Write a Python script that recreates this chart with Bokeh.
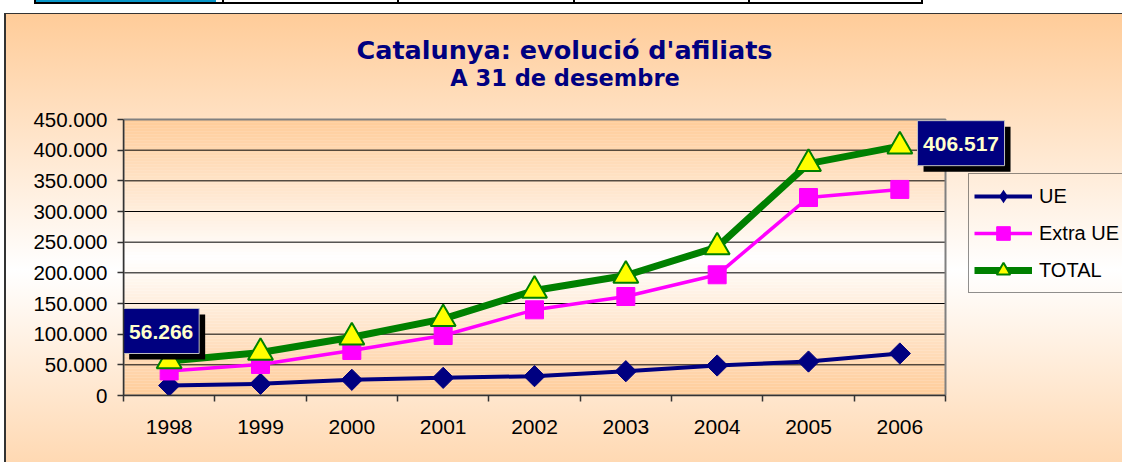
import numpy as np
from bokeh.plotting import figure
from bokeh.models import Range1d, FixedTicker, Label, Legend, LegendItem
from bokeh.embed import file_html
from bokeh.resources import INLINE

# ---------------- data ----------------
years = [1998, 1999, 2000, 2001, 2002, 2003, 2004, 2005, 2006]
ue = [16300, 19000, 25600, 28800, 31500, 39600, 48900, 55400, 68500]
extra_ue = [40000, 50600, 73400, 97800, 139700, 161400, 196800, 322800, 336000]
total = [56266, 70000, 95000, 125000, 171200, 195600, 242000, 378000, 406517]
series_names = ["UE", "Extra UE", "TOTAL"]
y_ticks = [0, 50000, 100000, 150000, 200000, 250000, 300000, 350000, 400000, 450000]
y_tick_labels = ["0", "50.000", "100.000", "150.000", "200.000", "250.000",
                 "300.000", "350.000", "400.000", "450.000"]
title_text = "Catalunya: evolució d'afiliats"
subtitle_text = "A 31 de desembre"

# ---------------- geometry (canvas pixels) ----------------
W, H = 1122, 462
PA_L, PA_R, PA_T, PA_B = 123, 945, 119, 395   # plot area
X0, X1 = years[0] - 0.5, years[-1] + 0.5
Y0, Y1 = y_ticks[0], y_ticks[-1]
px_x = (X1 - X0) / (PA_R - PA_L)
px_y = (Y1 - Y0) / (PA_B - PA_T)

def to_x(px):
    return X0 + (px - PA_L) * px_x

def to_y(py):
    return Y0 + (PA_B - py) * px_y

PEACH = (255, 204, 153)
def mix(t):
    t = max(0.0, min(1.0, t))
    return "#%02x%02x%02x" % tuple(int(round(255 + (c - 255) * t)) for c in PEACH)

NAVY = "#000080"
MAGENTA = "#FF00FF"
GREEN = "#008000"
FONT = "Liberation Sans"
TFONT = "DejaVu Sans"

p = figure(width=W, height=H, output_backend="svg", toolbar_location=None,
           x_range=Range1d(X0, X1 + (W - PA_R) * px_x),
           y_range=Range1d(Y0, Y1 + PA_T * px_y),
           min_border_left=PA_L, min_border_right=0, min_border_top=0,
           min_border_bottom=H - PA_B)
p.border_fill_alpha = 0
p.background_fill_alpha = 0
p.outline_line_color = None

# page background: cut-off table strip on top, chart-area border and gradient
table_lines = "".join(
    f"linear-gradient(#000000, #000000) {x}px 0px / 2px 4px no-repeat, "
    for x in (34, 222, 397, 573, 748, 921))
p.styles = {
    "background": (
        table_lines
        + "linear-gradient(#000000, #000000) 34px 2px / 889px 2px no-repeat, "
        + "linear-gradient(#0896c8, #0896c8) 36px 0px / 180px 2px no-repeat, "
        + "linear-gradient(to bottom, #ffffff 0px, #ffffff 13px, rgba(255,255,255,0) 13px), "
        + "linear-gradient(to right, #ffffff 0px, #ffffff 4px, #333333 4px, #333333 5.5px, rgba(255,255,255,0) 5.5px), "
        + "linear-gradient(to bottom, #333333 13px, #333333 14.5px, #ffcc99 14.5px, #ffffff 270px, #ffcc99 527px)"
    )
}

# plot-area gradient
nb = 92
edges = np.linspace(Y0, Y1, nb + 1)
mids = (edges[:-1] + edges[1:]) / 2
half = (Y1 - Y0) / 2
cols = [mix(abs(m - (Y0 + half)) / half) for m in mids]
p.quad(left=X0, right=X1, bottom=edges[:-1], top=edges[1:], fill_color=cols,
       line_color=None, level="image")

# horizontal gridlines at the y ticks (inside the plot area only)
grid_y = y_ticks[1:-1]
p.segment(x0=[X0] * len(grid_y), x1=[X1] * len(grid_y), y0=grid_y, y1=grid_y,
          line_color="black", line_width=1, level="underlay")
# plot-area border
p.quad(left=X0, right=X1, bottom=Y0, top=Y1, fill_alpha=0, line_color="#808080",
       line_width=2, level="underlay")

# axes
p.xaxis.ticker = FixedTicker(ticks=years, minor_ticks=[y - 0.5 for y in years] + [years[-1] + 0.5])
p.xaxis.major_label_overrides = {y: str(y) for y in years}
p.xaxis.bounds = (X0, X1)
p.xaxis.major_tick_out = 0
p.xaxis.major_tick_in = 0
p.xaxis.minor_tick_out = 6
p.xaxis.minor_tick_in = 0
p.xaxis.minor_tick_line_color = "#333333"
p.xaxis.minor_tick_line_width = 1.5
p.xaxis.major_label_standoff = 18
p.xaxis.major_label_text_font_size = "21px"

p.yaxis.ticker = FixedTicker(ticks=y_ticks)
p.yaxis.major_label_overrides = dict(zip(y_ticks, y_tick_labels))
p.yaxis.bounds = (Y0, Y1)
p.yaxis.major_tick_out = 6
p.yaxis.major_tick_in = 0
p.yaxis.minor_tick_line_color = None
p.yaxis.major_label_standoff = 10
p.yaxis.major_label_text_font_size = "20.5px"

for ax in (p.xaxis[0], p.yaxis[0]):
    ax.axis_line_color = "#333333"
    ax.axis_line_width = 1.5
    ax.major_tick_line_color = "#333333"
    ax.major_tick_line_width = 1.5
    ax.major_label_text_font = FONT
    ax.major_label_text_color = "black"

p.xgrid.grid_line_color = None
p.ygrid.grid_line_color = None

# series
r1l = p.line(years, ue, line_color=NAVY, line_width=4)
r1s = p.scatter(years, ue, marker="square", angle=np.pi / 4, size=15,
                fill_color=NAVY, line_color=NAVY)
r1k = p.scatter(years, ue, marker="diamond", size=0, fill_color=NAVY, line_alpha=0)  # legend key
r2l = p.line(years, extra_ue, line_color=MAGENTA, line_width=3.5)
r2s = p.scatter(years, extra_ue, marker="square", size=18,
                fill_color=MAGENTA, line_color=MAGENTA)
r3l = p.line(years, total, line_color=GREEN, line_width=7)
r3s = p.scatter(years, total, marker="triangle", size=25,
                fill_color="#FFFF00", line_color=GREEN, line_width=2)

legend = Legend(items=[LegendItem(label=series_names[0], renderers=[r1l, r1k]),
                       LegendItem(label=series_names[1], renderers=[r2l, r2s]),
                       LegendItem(label=series_names[2], renderers=[r3l, r3s])],
                location=(968 - PA_L, PA_B - 293), orientation="vertical")
legend.glyph_width = 58
legend.glyph_height = 34
legend.label_height = 20
legend.spacing = 3
legend.padding = 5
legend.margin = 0
legend.label_standoff = 7
legend.label_text_font = FONT
legend.label_text_font_size = "20px"
legend.label_text_color = "black"
legend.border_line_color = "#222222"
legend.border_line_width = 1
legend.background_fill_alpha = 0
p.add_layout(legend)

# data labels (first and last TOTAL values)
def fmt(v):
    return f"{v:,}".replace(",", ".")

lab_idx = [0, len(years) - 1]
lab_dx = [-8.0, 61.2]       # px offset of the label box centre from its point
lab_dy = [30.0, 3.0]        # px, upwards
lab_w = [76, 87]
lab_h = [45, 45]
bx = [years[i] + dx * px_x for i, dx in zip(lab_idx, lab_dx)]
by = [total[i] + dy * px_y for i, dy in zip(lab_idx, lab_dy)]
p.rect(x=[v + 6 * px_x for v in bx], y=[v - 6 * px_y for v in by], width=lab_w, height=lab_h,
       width_units="screen", height_units="screen", fill_color="black", line_color=None)
p.rect(x=bx, y=by, width=lab_w, height=lab_h, width_units="screen", height_units="screen",
       fill_color=NAVY, line_color="#C0C0C0", line_width=1)
for i, x, y in zip(lab_idx, bx, by):
    p.add_layout(Label(x=x, y=y, y_offset=-1, text=fmt(total[i]), text_align="center",
                       text_baseline="middle", text_font=FONT, text_font_size="21px",
                       text_font_style="bold", text_color="#FFFFCC"))

# titles
p.add_layout(Label(x=to_x(564), y=to_y(49), text=title_text, text_align="center",
                   text_baseline="alphabetic", text_font=TFONT,
                   text_font_style="bold", text_font_size="25.5px", text_color=NAVY))
p.add_layout(Label(x=to_x(564.5), y=to_y(77), text=subtitle_text, text_align="center",
                   text_baseline="alphabetic", text_font=TFONT,
                   text_font_style="bold", text_font_size="22.5px", text_color=NAVY))

open("out.html", "w").write(file_html(p, INLINE))
